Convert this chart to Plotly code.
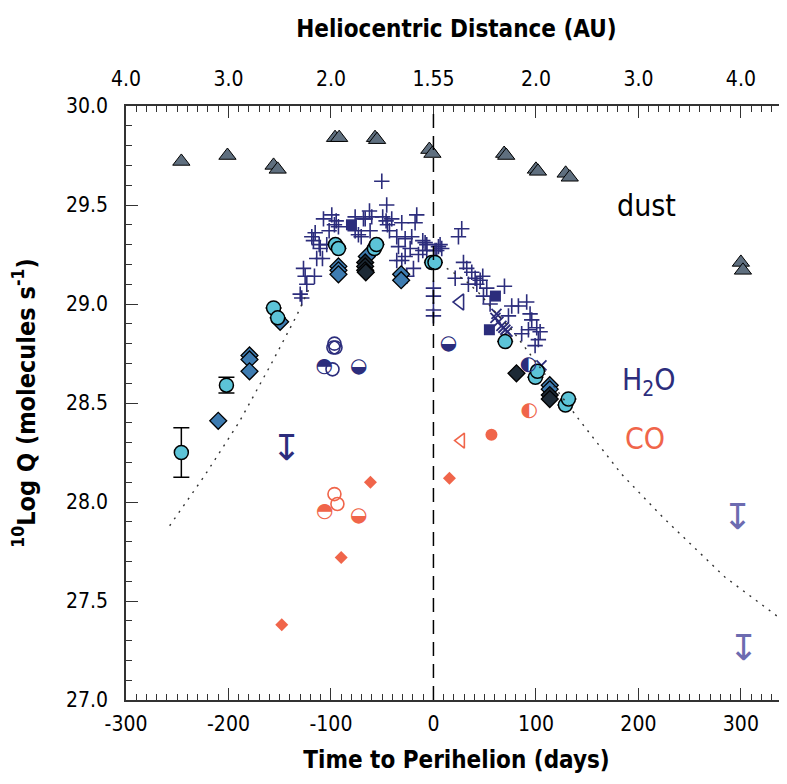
import plotly.graph_objects as go

# ---- data (days from perihelion, log10 Q) ----
dust_days = [-246, -201, -156, -152, -96, -92, -57, -55, -4, -1, 69, 71, 100, 102, 129, 133, 300, 302]
dust_logq = [29.72, 29.75, 29.70, 29.68, 29.84, 29.84, 29.84, 29.83, 29.78, 29.76,
             29.76, 29.75, 29.68, 29.67, 29.66, 29.64, 29.21, 29.17]

h2o_plus_days = [-107.3, -99.2, -94.9, -92.7, -96.6, -101.8, -76.4, -68.3, -76.4, -73.2, -70.5,
                 -115.4, -118.7, -117.1, -111.5, -110.5, -104.1, -113.9, -108.3, -126.8, -125.2,
                 -116.1, -123.6, -130.0, -128.5, -50.4, -45.6, -62.4, -60.2, -66.6, -61.8, -49.5,
                 -46.2, -40.7, -44.9, -42.9, -30.9, -16.3, -17.9, -35.8, -27.6, -21.2, -34.1,
                 -22.7, -10.4, -6.5, -10.4, -14.6, -27.6, -35.8, -30.9, -19.5, -26.0, 4.9, 1.6,
                 0, 0, 27.6, 24.4, -8.1, 6.5, 3.2, 8.1, -6.5, 29.3, 32.5, 37.4, 40.7, 45.6, 48.1,
                 34.1, 21.2, 52.0, 48.8, 55.3, 0, 0, 42.3, 69.3, 76.4, 82.9, 91.0, 73.2, 94.3,
                 95.9, 100.8, 92.7, 104.1, 86.1, 102.4, 99.2]
h2o_plus_logq = [29.43, 29.45, 29.42, 29.39, 29.40, 29.37, 29.44, 29.43, 29.37, 29.35, 29.34,
                 29.36, 29.34, 29.32, 29.30, 29.28, 29.30, 29.23, 29.23, 29.18, 29.14,
                 29.14, 29.10, 29.05, 29.03, 29.62, 29.50, 29.47, 29.44, 29.43, 29.37, 29.44,
                 29.42, 29.43, 29.40, 29.37, 29.41, 29.45, 29.41, 29.34, 29.33, 29.34, 29.29,
                 29.28, 29.32, 29.30, 29.27, 29.25, 29.24, 29.22, 29.22, 29.18, 29.14, 29.29, 29.27,
                 29.08, 29.04, 29.38, 29.34, 29.31, 29.30, 29.27, 29.28, 29.27, 29.21, 29.18, 29.16,
                 29.13, 29.12, 29.14, 29.10, 29.13, 29.08, 29.04, 29.00, 28.97, 28.94, 29.10, 29.09,
                 28.99, 28.99, 29.01, 28.94, 28.95, 28.92, 28.88, 28.87, 28.86, 28.85, 28.82, 28.79]

h2o_x_days = [60.5, 63.4, 66.3, 68.3, 70.2, 72.2, 61.5, 105.4]
h2o_x_logq = [28.93, 28.91, 28.89, 28.88, 28.87, 28.86, 28.95, 28.69]

cyan_days = [-246, -202, -156, -152, -95.6, -92.7, -57.6, -55.6, -1.5, 1.5, 70, 99.5, 101.5, 128.8, 131.7]
cyan_logq = [28.25, 28.59, 28.98, 28.93, 29.30, 29.28, 29.28, 29.30, 29.21, 29.21, 28.81, 28.63, 28.66, 28.49, 28.52]
cyan_err = [0.125, 0.04, 0, 0, 0, 0, 0, 0, 0, 0, 0, 0, 0, 0, 0]

blue_dia_days = [-210, -179.5, -179.5, -179.5, -149.6, -92.7, -92.7, -92.7, -65, -31.5, -31.5, 113.5, 113.5]
blue_dia_logq = [28.41, 28.74, 28.72, 28.66, 28.91, 29.19, 29.17, 29.15, 29.24, 29.15, 29.12, 28.59, 28.57]

dark_dia_days = [-66.6, -66.6, -66.6, -66.0, 81, 113.5, 113.5]
dark_dia_logq = [29.21, 29.19, 29.17, 29.16, 28.65, 28.54, 28.52]

h2o_open_days = [-96.6, -97.6, -95.6, -98.5]
h2o_open_logq = [28.80, 28.78, 28.78, 28.67]
h2o_half_days = [-106.6, -73, 14.6, 92.7]
h2o_half_logq = [28.68, 28.68, 28.80, 28.69]
h2o_half_glyph = ['◓', '◒', '◒', '◐']
h2o_tri_days = [26]
h2o_tri_logq = [29.01]
h2o_sq_days = [-80, 60.5, 54.6]
h2o_sq_logq = [29.40, 29.04, 28.87]
h2o_lim_days = [-143.6]
h2o_lim_logq = [28.26]
late_lim_days = [296.6, 302.4]
late_lim_logq = [27.91, 27.25]

co_dia_days = [-148, -90, -61.5, 15.6]
co_dia_logq = [27.38, 27.72, 28.10, 28.12]
co_open_days = [-96.6, -93.7]
co_open_logq = [28.04, 27.99]
co_half_days = [-106, -73, 93.4]
co_half_logq = [27.95, 27.93, 28.46]
co_half_glyph = ['◓', '◒', '◐']
co_tri_days = [27]
co_tri_logq = [28.31]
co_dot_days = [56.6]
co_dot_logq = [28.34]

model_days = [-257.4, -223.7, -190, -158, -133.6, -122, None, 13, 31, 45.5, 58.5, 76.4, 91,
              141.5, 183.7, 224.4, 284.6, 341.5]
model_logq = [27.88, 28.13, 28.40, 28.70, 28.94, 29.07, None, 29.18, 29.12, 29.05, 28.97, 28.87, 28.77,
              28.42, 28.14, 27.92, 27.62, 27.40]

bottom_ticks = [-300, -200, -100, 0, 100, 200, 300]
bottom_ticktext = ['-300', '-200', '-100', '0', '100', '200', '300']
top_ticktext = ['4.0', '3.0', '2.0', '1.55', '2.0', '3.0', '4.0']
y_ticks = [27.0, 27.5, 28.0, 28.5, 29.0, 29.5, 30.0]

NAVY = '#2c2d7c'
CO = '#f0654a'
CYAN = '#5cc4d8'
BLUE = '#3e7cb1'
DUST = '#5f6f7f'
LILAC = '#6c6bb0'
NARROW = 'Liberation Sans Narrow, DejaVu Sans Condensed, Arial Narrow, sans-serif'
GLYPH = 'DejaVu Sans'

fig = go.Figure()

# model curve (on the top axis so that axis gets drawn)
fig.add_trace(go.Scatter(x=model_days, y=model_logq, mode='lines', xaxis='x2',
                         line=dict(color='#333333', width=1.4, dash='2px,6px'), connectgaps=False))

fig.add_vline(x=0, line=dict(color='black', width=1.5, dash='14px,8px'))

fig.add_trace(go.Scatter(x=dust_days, y=dust_logq, mode='markers',
                         marker=dict(symbol='triangle-up', size=15, color=DUST, line=dict(color='black', width=1))))

fig.add_trace(go.Scatter(x=h2o_plus_days, y=h2o_plus_logq, mode='markers',
                         marker=dict(symbol='cross-thin-open', size=11, color=NAVY, line=dict(color=NAVY, width=1.6))))
fig.add_trace(go.Scatter(x=h2o_x_days, y=h2o_x_logq, mode='markers',
                         marker=dict(symbol='x-thin-open', size=10, color=NAVY, line=dict(color=NAVY, width=1.8))))

fig.add_trace(go.Scatter(x=blue_dia_days, y=blue_dia_logq, mode='markers',
                         marker=dict(symbol='diamond', size=13, color=BLUE, line=dict(color='black', width=1.3))))
fig.add_trace(go.Scatter(x=dark_dia_days, y=dark_dia_logq, mode='markers',
                         marker=dict(symbol='diamond', size=13, color='#1d2a36', line=dict(color='black', width=1.3))))

fig.add_trace(go.Scatter(x=cyan_days, y=cyan_logq, mode='markers',
                         error_y=dict(type='data', array=cyan_err, color='black', thickness=1.5, width=8),
                         marker=dict(symbol='circle', size=14, color=CYAN, line=dict(color='black', width=1.5))))

fig.add_trace(go.Scatter(x=h2o_open_days, y=h2o_open_logq, mode='markers',
                         marker=dict(symbol='circle-open', size=13, color=NAVY, line=dict(width=1.6))))
fig.add_trace(go.Scatter(x=h2o_sq_days, y=h2o_sq_logq, mode='markers',
                         marker=dict(symbol='square', size=11, color=NAVY)))
fig.add_trace(go.Scatter(x=h2o_tri_days, y=h2o_tri_logq, mode='markers',
                         marker=dict(symbol='triangle-left-open', size=14, color=NAVY, line=dict(width=1.6))))

fig.add_trace(go.Scatter(x=co_dia_days, y=co_dia_logq, mode='markers',
                         marker=dict(symbol='diamond', size=10, color=CO)))
fig.add_trace(go.Scatter(x=co_open_days, y=co_open_logq, mode='markers',
                         marker=dict(symbol='circle-open', size=13, color=CO, line=dict(width=1.6))))
fig.add_trace(go.Scatter(x=co_tri_days, y=co_tri_logq, mode='markers',
                         marker=dict(symbol='triangle-left-open', size=13, color=CO, line=dict(width=1.6))))
fig.add_trace(go.Scatter(x=co_dot_days, y=co_dot_logq, mode='markers',
                         marker=dict(symbol='circle', size=12, color=CO)))

# half-filled circles and upper limits drawn as glyphs
fig.add_trace(go.Scatter(x=h2o_half_days, y=h2o_half_logq, mode='text', text=h2o_half_glyph,
                         textfont=dict(family=GLYPH, size=20, color=NAVY)))
fig.add_trace(go.Scatter(x=co_half_days, y=co_half_logq, mode='text', text=co_half_glyph,
                         textfont=dict(family=GLYPH, size=20, color=CO)))
fig.add_trace(go.Scatter(x=h2o_lim_days, y=h2o_lim_logq, mode='text', text=['↧'] * len(h2o_lim_days),
                         textfont=dict(family=GLYPH, size=36, color=NAVY)))
fig.add_trace(go.Scatter(x=late_lim_days, y=late_lim_logq, mode='text', text=['↧'] * len(late_lim_days),
                         textfont=dict(family=GLYPH, size=36, color=LILAC)))

fig.add_annotation(x=208, y=29.5, text='dust', showarrow=False, font=dict(family=NARROW, size=30, color='black'))
fig.add_annotation(x=210, y=28.61, text='H<sub>2</sub>O', showarrow=False, font=dict(family=NARROW, size=30, color=NAVY))
fig.add_annotation(x=206, y=28.32, text='CO', showarrow=False, font=dict(family=NARROW, size=30, color=CO))

tickfont = dict(family=NARROW, size=21, color='black')
titlefont = dict(family=NARROW, size=24, color='black')
axis_common = dict(showline=True, linecolor='#333333', linewidth=1.5, showgrid=False, zeroline=False,
                   ticks='inside', ticklen=12, tickwidth=1.2, tickcolor='#333333', tickfont=tickfont,
                   automargin=False)

# the page adds an 8px body margin, so the figure is 8px smaller on each offset side
fig.update_layout(
    width=779, height=776,
    margin=dict(l=118, r=0, t=98, b=84),
    plot_bgcolor='white', paper_bgcolor='white',
    showlegend=False,
    xaxis=dict(range=[-300, 345], tickvals=bottom_ticks, ticktext=bottom_ticktext, ticklabelstandoff=4,
               minor=dict(dtick=10, ticks='inside', ticklen=6, tickcolor='#333333'),
               title=dict(text='<b>Time to Perihelion (days)</b>', font=titlefont, standoff=16),
               **axis_common),
    xaxis2=dict(range=[-300, 345], overlaying='x', side='top', matches='x',
                tickvals=bottom_ticks, ticktext=top_ticktext, ticklabelstandoff=10,
                minor=dict(dtick=10, ticks='inside', ticklen=6, tickcolor='#333333'),
                title=dict(text='<b>Heliocentric Distance (AU)</b>', font=titlefont, standoff=22),
                **axis_common),
    yaxis=dict(range=[27.0, 30.0], tickvals=y_ticks, tickformat='.1f', ticklabelstandoff=12,
               minor=dict(dtick=0.1, ticks='inside', ticklen=6, tickcolor='#333333'),
               title=dict(text='<b><sup>10</sup>Log Q (molecules s<sup>-1</sup>)</b>',
                          font=dict(family=NARROW, size=25, color='black'), standoff=30),
               **axis_common),
)

fig.write_html("out.html")
